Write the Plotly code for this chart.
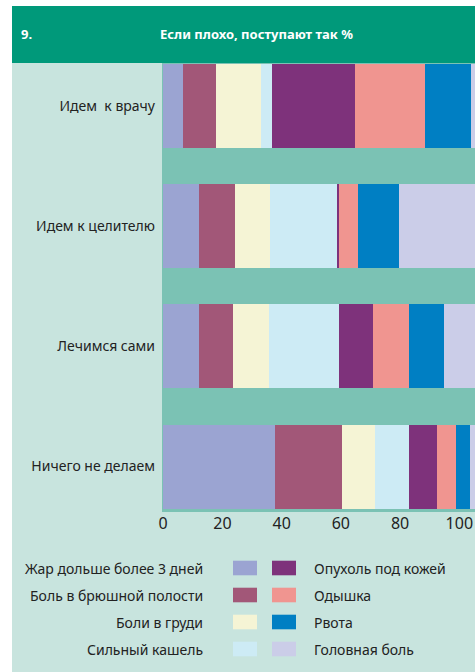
import plotly.graph_objects as go

# ---------------- data ----------------
categories = ["Идем\u00a0 к врачу", "Идем к целителю", "Лечимся сами", "Ничего не делаем"]
series_names = ["Жар дольше более 3 дней", "Боль в брюшной полости", "Боли в груди",
                "Сильный кашель", "Опухоль под кожей", "Одышка", "Рвота", "Головная боль"]
zhar = [6.7, 12.1, 12.1, 37.7]
bol_bryush = [11.1, 12.2, 11.5, 22.6]
boli_grudi = [15.2, 11.8, 12.2, 11.1]
kashel = [3.7, 22.6, 23.6, 11.5]
opukhol = [28.0, 0.7, 11.5, 9.5]
odyshka = [23.6, 6.4, 12.2, 6.4]
rvota = [15.8, 13.9, 11.8, 4.7]
golovnaya = [2.0, 27.0, 12.0, 3.0]
series_values = [zhar, bol_bryush, boli_grudi, kashel, opukhol, odyshka, rvota, golovnaya]
colors = ["#9BA4D2", "#A25778", "#F5F4D5", "#CDEBF5", "#7E327B", "#F09590", "#007FC3", "#CBCDE8"]
x_ticks = [0, 20, 40, 60, 80, 100]
title_num = "9."
title_text = "Если плохо, поступают так %"

# ---------------- layout constants ----------------
W, H = 475, 672
ML, MR, MT, MB = 162, 0, 63, 160
PW, PH = W - ML - MR, H - MT - MB
FONT = "Noto Sans, DejaVu Sans, sans-serif"
MINT = "#C8E4DE"
TEAL = "#7BC2B4"
GREEN = "#00997A"
TXT = "#222222"


def px(x):
    return (x - ML) / PW


def py(y):
    return (H - MB - y) / PH


fig = go.Figure()
for name, vals, col in zip(series_names, series_values, colors):
    fig.add_trace(go.Bar(
        y=categories, x=vals, name=name, orientation="h",
        marker=dict(color=col, line=dict(width=0)), showlegend=False,
    ))

shapes = [
    dict(type="rect", xref="paper", yref="paper", x0=px(0), x1=px(12), y0=py(0), y1=py(H),
         fillcolor="white", line=dict(width=0), layer="below"),
    dict(type="rect", xref="paper", yref="paper", x0=px(0), x1=px(W), y0=py(0), y1=py(6),
         fillcolor="white", line=dict(width=0), layer="below"),
    dict(type="rect", xref="paper", yref="paper", x0=px(12), x1=px(W), y0=py(6), y1=py(MT),
         fillcolor=GREEN, line=dict(width=0), layer="below"),
]
annotations = [
    dict(text=f"<b>{title_num}</b>", xref="paper", yref="paper", x=px(19), y=py(34),
         xanchor="left", yanchor="middle", showarrow=False,
         font=dict(family=FONT, size=13, color="white")),
    dict(text=f"<b>{title_text}</b>", xref="paper", yref="paper", x=px(256), y=py(34),
         xanchor="center", yanchor="middle", showarrow=False,
         font=dict(family=FONT, size=13, color="white")),
]

# custom legend: two columns
row_y = [568, 595, 622, 649]
for i, (name, col) in enumerate(zip(series_names, colors)):
    colidx, r = divmod(i, 4)
    yc = row_y[r]
    if colidx == 0:
        sx0, sx1 = 233, 257
        annotations.append(dict(text=name, xref="paper", yref="paper", x=px(205), y=py(yc),
                                xanchor="right", yanchor="middle", showarrow=False,
                                font=dict(family=FONT, size=14, color=TXT)))
    else:
        sx0, sx1 = 272, 296
        annotations.append(dict(text=name, xref="paper", yref="paper", x=px(312), y=py(yc),
                                xanchor="left", yanchor="middle", showarrow=False,
                                font=dict(family=FONT, size=14, color=TXT)))
    shapes.append(dict(type="rect", xref="paper", yref="paper", x0=px(sx0), x1=px(sx1),
                       y0=py(yc + 7.3), y1=py(yc - 7.3), fillcolor=col, line=dict(width=0)))

fig.update_layout(
    width=W, height=H, barmode="stack", bargap=0.3,
    margin=dict(l=ML, r=MR, t=MT, b=MB, pad=0),
    paper_bgcolor=MINT, plot_bgcolor=TEAL,
    shapes=shapes, annotations=annotations, showlegend=False,
    font=dict(family=FONT, color=TXT),
    xaxis=dict(range=[-0.4, 105.3], tickvals=x_ticks, showgrid=False, zeroline=False,
               showline=False, ticks="", tickfont=dict(size=16, color=TXT),
               fixedrange=True),
    yaxis=dict(range=[3.378, -0.358], showgrid=False, zeroline=False, showline=False,
               ticks="", tickfont=dict(size=14, color=TXT), ticklabelstandoff=6,
               fixedrange=True),
)

fig.write_html("out.html")
